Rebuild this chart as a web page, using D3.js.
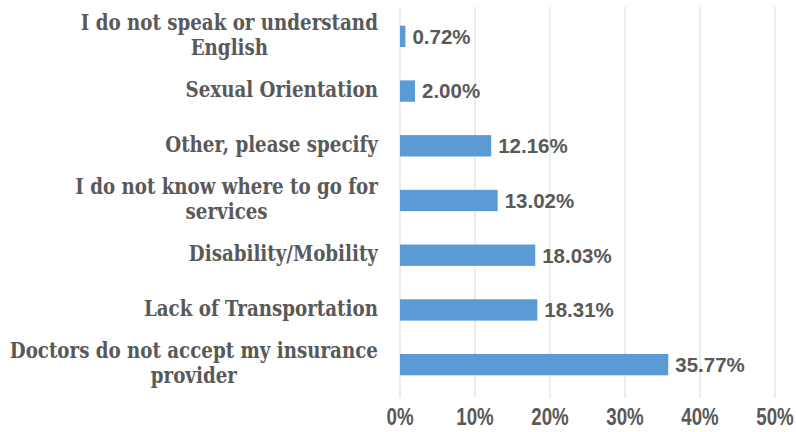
<!DOCTYPE html>
<html>
<head>
<meta charset="utf-8">
<script src="https://cdn.jsdelivr.net/npm/d3@7"></script>
<style>
  html, body { margin: 0; padding: 0; background: #fff; }
  svg { display: block; }
</style>
</head>
<body>
<svg id="chart" width="796" height="432"></svg>
<script>
// Barriers to care, share of respondents (top to bottom)
const categories = [
  ["I do not speak or understand", "English"],
  ["Sexual Orientation"],
  ["Other, please specify"],
  ["I do not know where to go for", "services"],
  ["Disability/Mobility"],
  ["Lack of Transportation"],
  ["Doctors do not accept my insurance", "provider"]
];
const values = [0.72, 2.00, 12.16, 13.02, 18.03, 18.31, 35.77];
const tickValues = [0, 10, 20, 30, 40, 50];
const tickLabels = ["0%", "10%", "20%", "30%", "40%", "50%"];

const svg = d3.select("#chart");
const textColor = "#595959";
const barColor = "#5b9bd5";

const x = d3.scaleLinear().domain([0, 50]).range([400, 775]);
const y = d3.scaleBand()
  .domain(d3.range(values.length))
  .range([9, 392])
  .paddingInner(0.61)
  .paddingOuter(0.305);

// vertical gridlines (including the 0% baseline)
svg.append("g")
  .selectAll("line")
  .data(tickValues)
  .join("line")
  .attr("x1", d => x(d)).attr("x2", d => x(d))
  .attr("y1", 7).attr("y2", 398)
  .attr("stroke", "#d9d9d9")
  .attr("stroke-width", 1);

// bars
svg.append("g")
  .selectAll("rect")
  .data(values)
  .join("rect")
  .attr("x", x(0))
  .attr("y", (d, i) => y(i))
  .attr("width", d => x(d) - x(0))
  .attr("height", y.bandwidth())
  .attr("fill", barColor);

// value labels
svg.append("g")
  .selectAll("text")
  .data(values)
  .join("text")
  .attr("x", d => x(d) + 7)
  .attr("y", (d, i) => y(i) + y.bandwidth() / 2 + 2)
  .attr("dominant-baseline", "middle")
  .attr("font-family", "Liberation Sans, Arial, sans-serif")
  .attr("font-weight", "bold")
  .attr("font-size", 20.5)
  .attr("fill", textColor)
  .text(d => d.toFixed(2) + "%");

// x axis tick labels (condensed bold sans)
const tickSx = 0.78;
svg.append("g")
  .selectAll("text")
  .data(tickValues)
  .join("text")
  .attr("transform", d => `translate(${x(d)},419) scale(${tickSx},1)`)
  .attr("text-anchor", "middle")
  .attr("dominant-baseline", "middle")
  .attr("font-family", "Liberation Sans, Arial, sans-serif")
  .attr("font-weight", "bold")
  .attr("font-size", 24)
  .attr("fill", textColor)
  .text((d, i) => tickLabels[i]);

// category labels: condensed bold serif, wrapped lines centred within a right-aligned block
const labelSx = 0.83;
const labelRight = 378;
const lineGap = 25;
const catG = svg.append("g");
categories.forEach((lines, i) => {
  const cy = y(i) + y.bandwidth() / 2;
  const texts = lines.map((line, k) => catG.append("text")
    .attr("text-anchor", "middle")
    .attr("dominant-baseline", "middle")
    .attr("font-family", "DejaVu Serif, serif")
    .attr("font-weight", "bold")
    .attr("font-size", 22)
    .attr("fill", textColor)
    .text(line));
  const widest = d3.max(texts, t => t.node().getComputedTextLength()) * labelSx;
  const cx = labelRight - widest / 2;
  texts.forEach((t, k) => {
    const ly = cy + (k - (lines.length - 1) / 2) * lineGap;
    t.attr("transform", `translate(${cx},${ly}) scale(${labelSx},1)`);
  });
});
</script>
</body>
</html>
